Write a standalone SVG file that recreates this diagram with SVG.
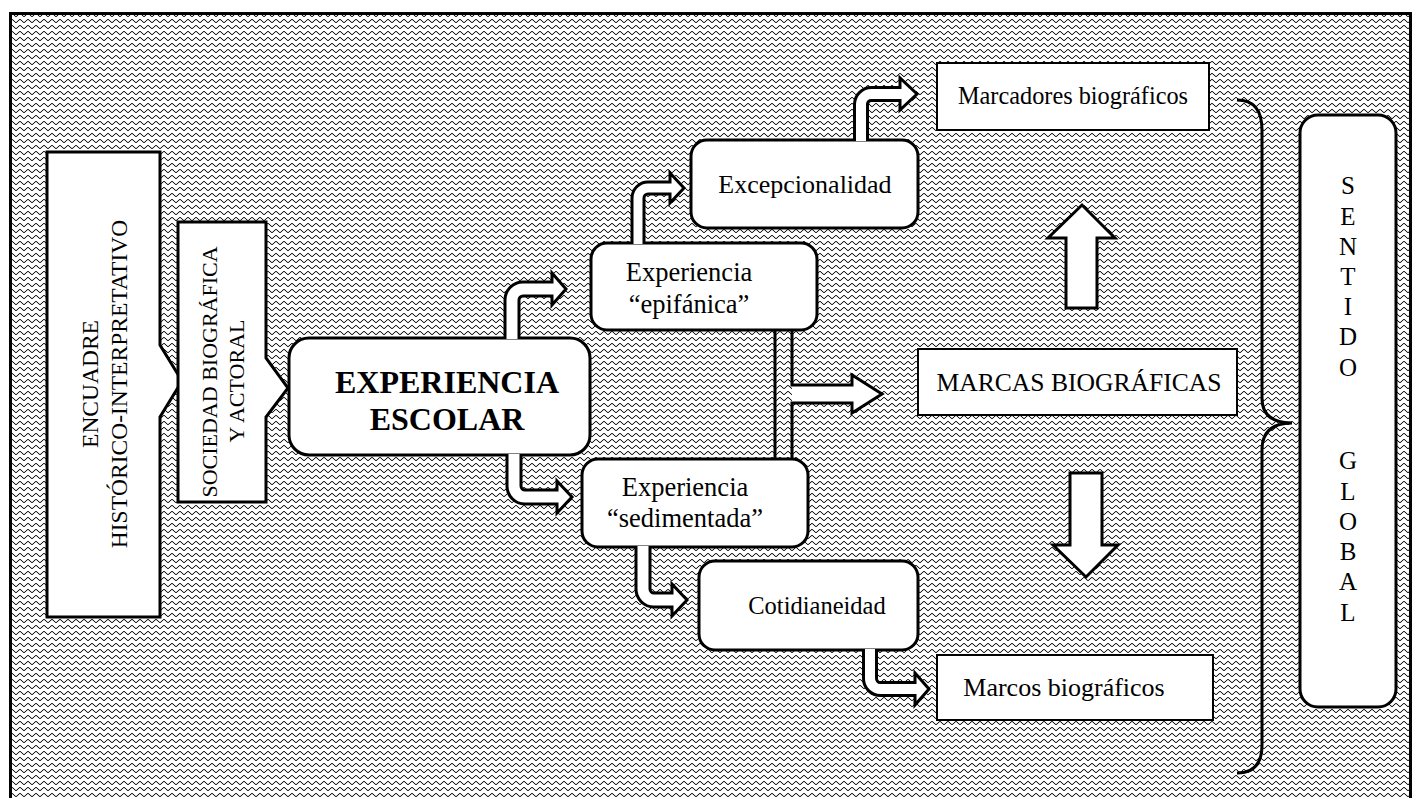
<svg xmlns="http://www.w3.org/2000/svg" width="1413" height="798" viewBox="0 0 1413 798">
<defs>
<pattern id="wave" width="8" height="6" patternUnits="userSpaceOnUse">
<path d="M0,4.5 C2,4.5 2,1.5 4,1.5 C6,1.5 6,4.5 8,4.5" fill="none" stroke="#000" stroke-width="1"/>
</pattern>
<style>
.bx{fill:#fff;stroke:#000;stroke-width:3}
.bt{fill:#fff;stroke:#000;stroke-width:2}
.ar{fill:#fff;stroke:#000;stroke-width:3;stroke-linejoin:miter}
.t{font-family:"Liberation Serif","Times New Roman",serif;fill:#000;text-anchor:middle}
</style>
</defs>
<rect x="0" y="0" width="1413" height="798" fill="#fff"/>
<rect x="10.5" y="13.5" width="1400" height="800" fill="url(#wave)" stroke="#000" stroke-width="3"/>

<g id="encuadre">
<path class="bx" d="M47,152 L160,152 L160,345 L182,381 L160,417 L160,617 L47,617 Z"/>
<text class="t" font-size="23.5" transform="translate(98,384) rotate(-90)">ENCUADRE</text>
<text class="t" font-size="23.5" transform="translate(127,384) rotate(-90)">HISTÓRICO-INTERPRETATIVO</text>
</g>
<g id="sociedad">
<path class="bx" d="M178,222 L266,222 L266,358 L288,388 L266,417 L266,502 L178,502 Z"/>
<text class="t" font-size="22" transform="translate(217,372) rotate(-90)">SOCIEDAD BIOGRÁFICA</text>
<text class="t" font-size="22" transform="translate(244,381) rotate(-90)">Y ACTORAL</text>
</g>
<g id="escolar">
<rect class="bx" x="289" y="338" width="301" height="117" rx="20"/>
<text class="t" font-size="32" font-weight="bold" x="447" y="393">EXPERIENCIA</text>
<text class="t" font-size="32" font-weight="bold" x="447" y="430">ESCOLAR</text>
</g>
<g id="epifanica">
<rect class="bx" x="591" y="243" width="226" height="87" rx="16"/>
<text class="t" font-size="26.5" x="689" y="281">Experiencia</text>
<text class="t" font-size="26.5" x="689" y="313">“epifánica”</text>
</g>
<g id="sedimentada">
<rect class="bx" x="582" y="459" width="226" height="88" rx="16"/>
<text class="t" font-size="26.5" x="685" y="496">Experiencia</text>
<text class="t" font-size="26.5" x="685" y="527">“sedimentada”</text>
</g>
<g id="excepcionalidad">
<rect class="bx" x="691" y="140" width="227" height="88" rx="16"/>
<text class="t" font-size="26" x="805" y="193">Excepcionalidad</text>
</g>
<g id="cotidianeidad">
<rect class="bx" x="699" y="561" width="219" height="89" rx="16"/>
<text class="t" font-size="24.5" x="817" y="614">Cotidianeidad</text>
</g>
<g id="marcadores">
<rect class="bt" x="937" y="63" width="272" height="67"/>
<text class="t" font-size="24.3" x="1073" y="104">Marcadores biográficos</text>
</g>
<g id="marcas">
<rect class="bt" x="918" y="349" width="319" height="66"/>
<text class="t" font-size="25.6" x="1079" y="391">MARCAS BIOGRÁFICAS</text>
</g>
<g id="marcos">
<rect class="bt" x="937" y="655" width="276" height="65"/>
<text class="t" font-size="26" x="1064" y="696">Marcos biográficos</text>
</g>
<g id="sentido">
<rect class="bx" x="1300" y="115" width="96" height="592" rx="18"/>
<text class="t" font-size="25" x="1348">
<tspan x="1348" y="194">S</tspan><tspan x="1348" y="225">E</tspan><tspan x="1348" y="255">N</tspan><tspan x="1348" y="285">T</tspan><tspan x="1348" y="315">I</tspan><tspan x="1348" y="345">D</tspan><tspan x="1348" y="376">O</tspan><tspan x="1348" y="469">G</tspan><tspan x="1348" y="500">L</tspan><tspan x="1348" y="530">O</tspan><tspan x="1348" y="560">B</tspan><tspan x="1348" y="590">A</tspan><tspan x="1348" y="621">L</tspan>
</text>
</g>

<g id="connectors">
<path class="ar" d="M505,339 L505,300 A18,18 0 0 1 523,282 L552,282 L552,273 L566,289 L552,305 L552,296 L523,296 A4,4 0 0 0 519,300 L519,339"/>
<path class="ar" d="M632,244 L632,198 A16,16 0 0 1 648,182 L670,182 L670,173 L684,188 L670,203 L670,194 L648,194 A4,4 0 0 0 644,198 L644,244"/>
<path class="ar" d="M854.5,141 L854.5,104 A17,17 0 0 1 871.5,87.5 L900,87.5 L900,78 L917,94 L900,110 L900,100.5 L871.5,100.5 A4,4 0 0 0 867.5,104 L867.5,141"/>
<path class="ar" d="M507,454 L507,486 A18,18 0 0 0 525,504 L557,504 L557,513 L572,497 L557,481 L557,490 L525,490 A4,4 0 0 1 521,486 L521,454"/>
<path class="ar" d="M636,546 L636,589 A18,18 0 0 0 654,607 L672,607 L672,616 L687,600 L672,584 L672,593 L654,593 A4,4 0 0 1 650,589 L650,546"/>
<path class="ar" d="M863.5,649 L863.5,678 A17,17 0 0 0 880.5,695.5 L915,695.5 L915,705 L929,689 L915,673 L915,682.5 L880.5,682.5 A4,4 0 0 1 876.5,678 L876.5,649"/>
<path class="ar" d="M775,329 L775,460 M792,460 L792,403 L852,403 L852,413 L882,394 L852,375 L852,385 L792,385 L792,329"/>
<path class="ar" d="M1066,308 L1066,238 L1048,238 L1082,205 L1115,238 L1097,238 L1097,308 Z"/>
<path class="ar" d="M1070,473 L1102,473 L1102,545 L1118,545 L1086,577 L1053,545 L1070,545 Z"/>
<path d="M1237,100 Q1262,100 1262,130 L1262,398 Q1262,423 1292,423 Q1262,423 1262,450 L1262,745 Q1262,773 1237,773" fill="none" stroke="#000" stroke-width="3"/>
</g>
</svg>
